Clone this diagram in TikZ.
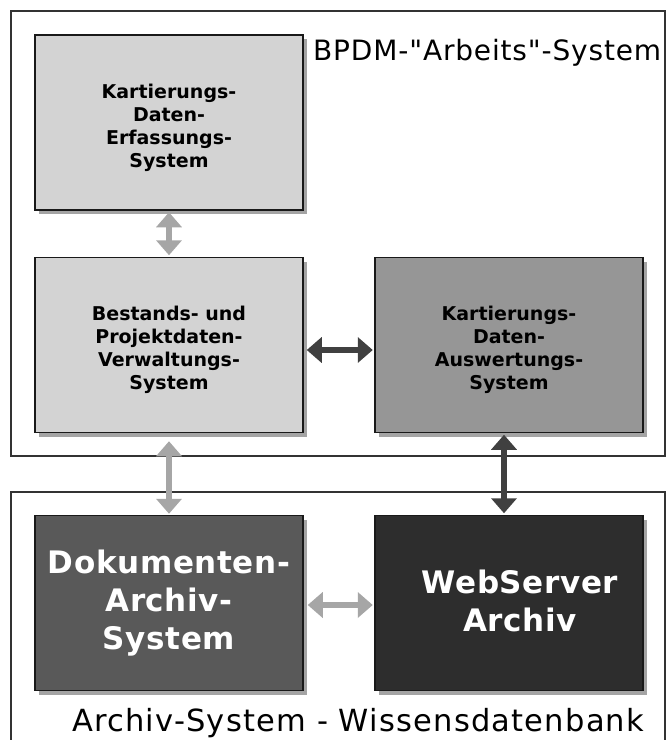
\documentclass[tikz,border=0pt]{standalone}
\usepackage{fontspec}
\setmainfont{DejaVu Sans}
\newfontfamily\boxfont{DejaVu Sans}
\newfontfamily\bigfont[LetterSpace=2]{DejaVu Sans}
\newfontfamily\topfont[LetterSpace=3]{DejaVu Sans}
\newfontfamily\botfont[LetterSpace=4]{DejaVu Sans}
\newcommand{\mytopstrut}{\rule{0pt}{25pt}}
\usetikzlibrary{arrows.meta,shadows}
\definecolor{lightbox}{HTML}{D3D3D3}
\definecolor{midbox}{HTML}{969696}
\definecolor{darkbox}{HTML}{595959}
\definecolor{blackbox}{HTML}{2D2D2D}
\definecolor{shadowgray}{HTML}{A4A4A4}
\definecolor{arrowlight}{HTML}{A6A6A6}
\definecolor{arrowdark}{HTML}{404040}
\definecolor{framegray}{HTML}{333333}
\begin{document}
\begin{tikzpicture}[x=1pt,y=-1pt,
  sysbox/.style={draw=black!90, line width=1.5pt, minimum width=268pt, minimum height=175pt,
    inner sep=0pt, align=center,
    general shadow={fill=shadowgray, shadow xshift=4pt, shadow yshift=-4pt}},
  smalltext/.style={font=\boxfont\bfseries\fontsize{19}{23}\selectfont, text=black},
  bigtext/.style={font=\bigfont\bfseries\fontsize{31}{38}\selectfont, text=white},
  frame/.style={draw=framegray, line width=2pt, inner sep=0pt},
  fatlight/.style={draw=arrowlight, line width=6pt,
    {Triangle[width=25pt,length=15pt]}-{Triangle[width=25pt,length=15pt]}},
  fatdark/.style={draw=arrowdark, line width=6.5pt,
    {Triangle[width=25pt,length=15pt]}-{Triangle[width=25pt,length=15pt]}}
]
\useasboundingbox (0,0) rectangle (672,740);
\fill[white] (0,0) rectangle (672,740);

% frames
\node[frame, minimum width=654pt, minimum height=445pt] (arbeits) at (338,233.5) {};
\node[frame, minimum width=654pt, minimum height=270pt] (archiv) at (338,627) {};

% titles
\node[anchor=base west, inner sep=0pt, font=\topfont\fontsize{28}{30}\selectfont] (ttop) at (313,60) {BPDM-"Arbeits"-System};
\node[anchor=base west, inner sep=0pt, font=\botfont\fontsize{30.5}{32}\selectfont] (tbot) at (72,731) {Archiv-System - Wissensdatenbank};

% boxes
\node[sysbox, fill=lightbox, smalltext] (kde) at (169,122.5) {\mytopstrut Kartierungs-\\Daten-\\Erfassungs-\\System};
\node[sysbox, fill=lightbox, smalltext] (bpv) at (169,345) {\mytopstrut Bestands- und\\Projektdaten-\\Verwaltungs-\\System};
\node[sysbox, fill=midbox, smalltext] (kda) at (509,345) {\mytopstrut Kartierungs-\\Daten-\\Auswertungs-\\System};
\node[sysbox, fill=darkbox, bigtext] (das) at (169,603) {Dokumenten-\\Archiv-\\System};
\node[sysbox, fill=blackbox] (wsa) at (509,603) {};
\node[bigtext, align=center, inner sep=0pt] (wsatext) at (520,601) {WebServer\\Archiv};

% connectors
\draw[fatlight, shorten <=1.5pt, shorten >=1.5pt] (kde.south) -- (bpv.north);
\draw[fatlight, shorten <=8pt, shorten >=1pt] (bpv.south) -- (das.north);
\draw[fatdark, shorten <=3pt, shorten >=1.5pt] ([yshift=-5pt]bpv.east) -- ([yshift=-5pt]kda.west);
\draw[fatdark, shorten <=1.5pt, shorten >=1.5pt] ([xshift=-5pt]kda.south) -- ([xshift=-5pt]wsa.north);
\draw[fatlight, shorten <=4pt, shorten >=1.5pt] ([yshift=-2pt]das.east) -- ([yshift=-2pt]wsa.west);
\end{tikzpicture}
\end{document}
